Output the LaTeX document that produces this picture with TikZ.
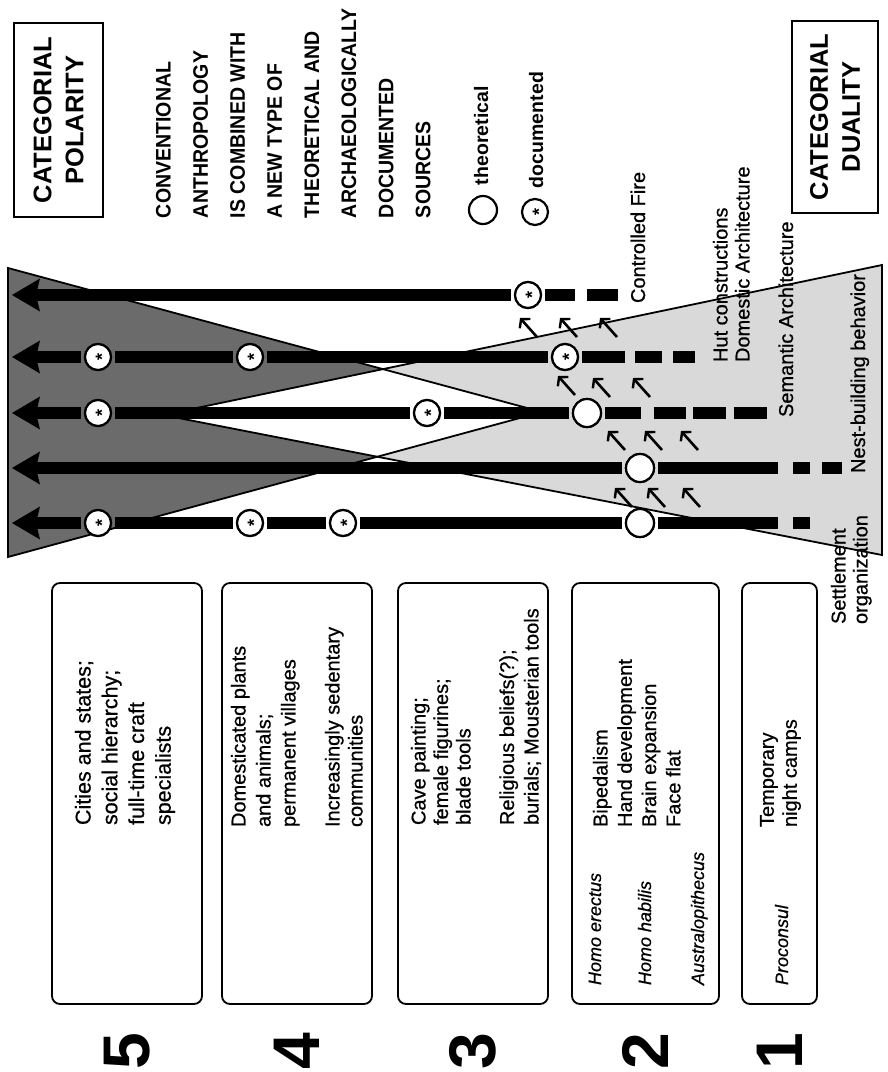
\documentclass[tikz,border=0pt]{standalone}
\usepackage{fontspec}
\setmainfont{Liberation Sans}
\newfontfamily\heavysans{Liberation Sans}[FakeBold=0.7]
\newfontfamily\condsans{Liberation Sans}[FakeStretch=0.93]
\usetikzlibrary{arrows.meta}
\definecolor{polarfill}{gray}{0.42}
\definecolor{dualfill}{gray}{0.85}
\newcommand\docstar{\smash{\raisebox{-0.56em}{*}}}
\begin{document}
\begin{tikzpicture}[x=1pt,y=-1pt,
  txt/.style={rotate=90,inner sep=0pt,outer sep=0pt},
  boxtxt/.style={txt,anchor=north west,align=left,font=\heavysans\fontsize{20}{25}\selectfont},
  lbl/.style={txt,anchor=base west,font=\heavysans\fontsize{20}{22}\selectfont},
  lbltwo/.style={txt,anchor=north west,align=left,font=\heavysans\fontsize{20}{22}\selectfont},
  spec/.style={txt,anchor=base west,font=\heavysans\fontsize{18}{20}\selectfont\itshape},
  head/.style={txt,align=center,font=\fontsize{25.5}{32}\selectfont\bfseries},
  para/.style={txt,anchor=north west,align=left,font=\condsans\fontsize{21}{37.1}\selectfont\bfseries},
  legtxt/.style={txt,anchor=base west,font=\fontsize{19.5}{22}\selectfont\bfseries},
  digit/.style={txt,font=\fontsize{66}{66}\selectfont\bfseries},
  frame/.style={draw,line width=1.6pt,inner sep=0pt},
  stage/.style={draw,line width=1.8pt,rounded corners=8pt,inner sep=0pt,minimum height=421pt},
  tri/.style={draw,line width=1.8pt,line join=miter},
  row/.style={line width=12pt},
  bigarrow/.style={row,-{Stealth[length=28pt,width=33pt,inset=4pt,line width=0pt]}},
  circ/.style={circle,draw,fill=white,line width=2.2pt,minimum size=26pt,inner sep=0pt,outer sep=4pt},
  doc/.style={circ,rotate=90,font=\fontsize{18}{18}\selectfont\bfseries},
  theo/.style={circ,minimum size=28pt},
  small/.style={line width=2.6pt,-{Straight Barb[length=6pt,width=14pt,line width=2.4pt]}}
]
\useasboundingbox (0,0) rectangle (888,1072);

% ---------- triangles ----------
\coordinate (D1) at (8,268);
\coordinate (D2) at (8,557);
\coordinate (D3) at (542,412);
\coordinate (L1) at (882,265);
\coordinate (L2) at (882,555);
\coordinate (L3) at (163,415);
\fill[polarfill] (D1) -- (D2) -- (D3) -- cycle;
\fill[dualfill] (L1) -- (L2) -- (L3) -- cycle;
\begin{scope}
  \clip (D1) -- (D2) -- (D3) -- cycle;
  \fill[white] (L1) -- (L2) -- (L3) -- cycle;
\end{scope}
\draw[tri] (D1) -- (D2) -- (D3) -- cycle;
\draw[tri] (L1) -- (L2) -- (L3) -- cycle;

% ---------- row end points ----------
\coordinate (t1) at (12,295);
\coordinate (t2) at (12,357);
\coordinate (t3) at (12,413);
\coordinate (t4) at (12,468);
\coordinate (t5) at (12,523);
\coordinate (e1) at (618,295);
\coordinate (e2) at (695,357);
\coordinate (e3) at (767,413);
\coordinate (e4) at (842,468);
\coordinate (e5) at (810,523);

% ---------- circles ----------
\node[doc] (c1a) at (528,295) {\docstar};
\node[doc] (c2a) at (98,357) {\docstar};
\node[doc] (c2b) at (250,357) {\docstar};
\node[doc] (c2c) at (565,357) {\docstar};
\node[doc] (c3a) at (98,413) {\docstar};
\node[doc] (c3b) at (427,413) {\docstar};
\node[theo] (c3c) at (587,413) {};
\node[theo] (c4a) at (640,468) {};
\node[doc] (c5a) at (98,523) {\docstar};
\node[doc] (c5b) at (250,523) {\docstar};
\node[doc] (c5c) at (343,523) {\docstar};
\node[theo] (c5d) at (640,523) {};

% ---------- rows ----------
% row 1: Controlled Fire
\draw[bigarrow] (c1a) -- (t1);
\draw[row,dash pattern=on 30pt off 12pt on 31pt off 60pt] (c1a) -- (e1);
% row 2: Hut constructions
\draw[bigarrow] (c2a) -- (t2);
\draw[row] (c2b) -- (c2a);
\draw[row] (c2c) -- (c2b);
\draw[row,dash pattern=on 43pt off 10pt on 27pt off 11pt on 22pt off 60pt] (c2c) -- (e2);
% row 3: Semantic Architecture
\draw[bigarrow] (c3a) -- (t3);
\draw[row] (c3b) -- (c3a);
\draw[row] (c3c) -- (c3b);
\draw[row,dash pattern=on 36pt off 13pt on 32pt off 7pt on 33pt off 8pt on 34pt off 60pt] (c3c) -- (e3);
% row 4: Nest-building behavior
\draw[bigarrow] (c4a) -- (t4);
\draw[row,dash pattern=on 120pt off 15pt on 17pt off 12pt on 20pt off 60pt] (c4a) -- (e4);
% row 5: Settlement organization
\draw[bigarrow] (c5a) -- (t5);
\draw[row] (c5b) -- (c5a);
\draw[row] (c5c) -- (c5b);
\draw[row] (c5d) -- (c5c);
\draw[row,dash pattern=on 120pt off 15pt on 17pt off 60pt] (c5d) -- (e5);

% redraw circles on top
\node[doc] at (c1a) {\docstar};
\node[doc] at (c2a) {\docstar};
\node[doc] at (c2b) {\docstar};
\node[doc] at (c2c) {\docstar};
\node[doc] at (c3a) {\docstar};
\node[doc] at (c3b) {\docstar};
\node[theo] at (c3c) {};
\node[theo] at (c4a) {};
\node[doc] at (c5a) {\docstar};
\node[doc] at (c5b) {\docstar};
\node[doc] at (c5c) {\docstar};
\node[theo] at (c5d) {};

% ---------- small arrows ----------
\foreach \n/\x/\y in {a1/537/337,a2/577/337,a3/617/337,
                      b1/575/395,b2/610/397,b3/650/397,
                      g1/625/450,g2/662/450,g3/698/450,
                      k1/632/507,k2/665/507,k3/700/507}{
  \coordinate (s\n) at (\x,\y);
  \coordinate (h\n) at ([shift={(-17,-19)}]s\n);
  \draw[small] (s\n) -- (h\n);
}

% ---------- row labels ----------
\node[lbl] (lfire) at (645,303) {Controlled Fire};
\node[lbltwo] (lhut) at (713,362) {Hut constructions\\Domestic Architecture};
\node[lbl] (lsem) at (793,417) {Semantic Architecture};
\node[lbl] (lnest) at (865,473) {Nest-building behavior};
\node[lbltwo] (lsett) at (831,624) {Settlement\\organization};

% ---------- headers ----------
\node[frame,minimum width=89pt,minimum height=194pt] (hpol) at (58.5,120) {};
\node[head] (tpol) at (hpol) {CATEGORIAL\\POLARITY};
\node[frame,minimum width=86pt,minimum height=192pt] (hdual) at (835,117) {};
\node[head] (tdual) at (hdual) {CATEGORIAL\\DUALITY};

\node[para] (intro) at (156,218) {CONVENTIONAL\\ANTHROPOLOGY\\IS COMBINED WITH\\A NEW TYPE OF\\THEORETICAL AND\\ARCHAEOLOGICALLY\\DOCUMENTED\\SOURCES};

% legend
\node[theo] (legt) at (483,210) {};
\node[legtxt] (legtt) at (488,185) {theoretical};
\node[doc] (legd) at (535,212) {\docstar};
\node[legtxt] (legdt) at (543,188) {documented};

% ---------- stage boxes ----------
\node[stage,minimum width=150pt] (b5) at (127,793.5) {};
\node[stage,minimum width=150pt] (b4) at (297,793.5) {};
\node[stage,minimum width=150pt] (b3) at (473,793.5) {};
\node[stage,minimum width=147pt] (b2) at (645.5,793.5) {};
\node[stage,minimum width=75pt] (b1) at (779.5,793.5) {};

\node[boxtxt,font=\heavysans\fontsize{21.5}{26.7}\selectfont] (x5) at (75,825) {Cities and states;\\social hierarchy;\\full-time craft\\specialists};
\node[boxtxt] (x4) at (231,827) {Domesticated plants\\and animals;\\permanent villages\\[19pt]Increasingly sedentary\\[-2pt]communities};
\node[boxtxt,font=\heavysans\fontsize{20}{22.5}\selectfont] (x3) at (411,825) {Cave painting;\\female figurines;\\blade tools\\[21pt]Religious beliefs(?);\\[2pt]burials; Mousterian tools};
\node[boxtxt,font=\heavysans\fontsize{20}{24.3}\selectfont] (x2) at (593,827) {Bipedalism\\Hand development\\Brain expansion\\Face flat};
\node[spec] (x2a) at (601,985) {Homo erectus};
\node[spec] (x2b) at (651,985) {Homo habilis};
\node[spec] (x2c) at (704,985) {Australopithecus};
\node[boxtxt,font=\heavysans\fontsize{20}{23}\selectfont] (x1) at (760,827) {Temporary\\night camps};
\node[spec] (x1a) at (788,985) {Proconsul};

% ---------- digits ----------
\node[digit] (n5) at (127,1051) {5};
\node[digit] (n4) at (297,1051) {4};
\node[digit] (n3) at (473,1051) {3};
\node[digit] (n2) at (645.5,1051) {2};
\node[digit] (n1) at (779.5,1051) {1};
\end{tikzpicture}
\end{document}
